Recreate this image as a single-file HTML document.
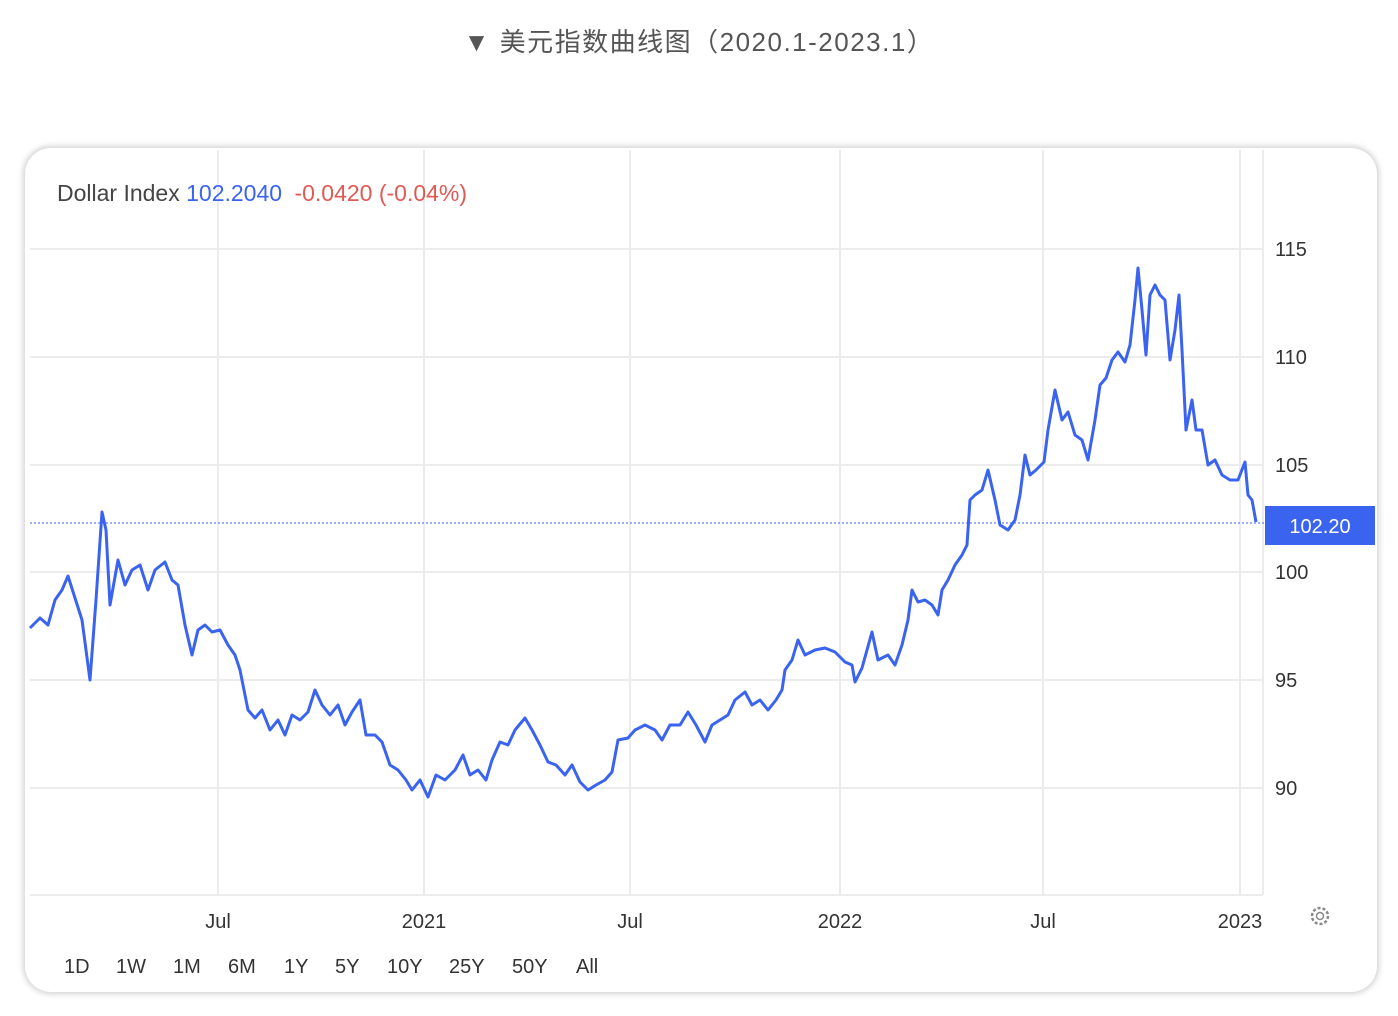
<!DOCTYPE html>
<html><head><meta charset="utf-8"><style>
body{margin:0;width:1398px;height:1016px;background:#fff;position:relative;overflow:hidden;font-family:"Liberation Sans","Noto Sans CJK SC",sans-serif}
.title{position:absolute;top:22px;left:0;width:1398px;text-align:center;font-size:26px;color:#555;letter-spacing:1.5px}
.card{position:absolute;left:25px;top:148px;width:1352px;height:844px;border-radius:26px;box-shadow:0 0 6px 2px rgba(0,0,0,0.18);background:#fff}
svg{position:absolute;left:0;top:0}
</style></head><body>
<div class="title">▼ 美元指数曲线图（2020.1-2023.1）</div>
<div class="card"></div>
<svg width="1398" height="1016" font-family="Liberation Sans, sans-serif">
<g stroke="#ececec" stroke-width="2">
<line x1="30" y1="249" x2="1263" y2="249"/><line x1="30" y1="357" x2="1263" y2="357"/><line x1="30" y1="465" x2="1263" y2="465"/><line x1="30" y1="572" x2="1263" y2="572"/><line x1="30" y1="680" x2="1263" y2="680"/><line x1="30" y1="788" x2="1263" y2="788"/><line x1="30" y1="895" x2="1263" y2="895"/>
<line x1="218" y1="150" x2="218" y2="895"/><line x1="424" y1="150" x2="424" y2="895"/><line x1="630" y1="150" x2="630" y2="895"/><line x1="840" y1="150" x2="840" y2="895"/><line x1="1043" y1="150" x2="1043" y2="895"/><line x1="1240" y1="150" x2="1240" y2="895"/><line x1="1263" y1="150" x2="1263" y2="895"/>
</g>
<text x="57" y="201" font-size="23" fill="#444">Dollar Index <tspan fill="#3a63f0">102.2040</tspan>  <tspan fill="#e05a55" dx="6">-0.0420 (-0.04%)</tspan></text>
<line x1="30" y1="523" x2="1265" y2="523" stroke="#3a63f0" stroke-width="1" stroke-dasharray="2,2"/>
<polyline fill="none" stroke="#3a63f0" stroke-width="3" stroke-linejoin="round" points="30,628 40,618 48,625 55,600 62,590 68,576 75,598 82,620 90,680 96,600 102,512 106,530 110,605 118,560 125,585 132,570 140,565 148,590 155,570 165,562 172,580 178,585 185,625 192,655 198,630 205,625 212,632 220,630 228,645 235,655 240,670 248,710 255,718 262,710 270,730 278,720 285,735 292,715 300,720 308,712 315,690 322,705 330,715 338,705 345,725 352,712 360,700 366,735 375,735 382,742 390,765 398,770 406,780 412,790 420,780 428,797 436,775 445,780 455,770 463,755 470,775 478,770 486,780 492,760 500,742 508,745 515,730 525,718 532,730 540,745 548,762 556,765 565,775 572,765 580,782 588,790 596,785 605,780 612,772 618,740 628,738 635,730 645,725 655,730 662,740 670,725 680,725 688,712 696,725 705,742 712,725 720,720 728,715 735,700 745,692 752,705 760,700 768,710 776,700 782,690 785,670 792,660 798,640 805,655 815,650 825,648 835,652 845,662 852,665 855,682 862,668 872,632 878,660 888,655 895,665 902,645 908,620 912,590 918,602 925,600 932,605 938,615 942,590 948,580 955,565 962,555 967,545 970,500 975,495 982,490 988,470 995,500 1000,525 1008,530 1015,520 1020,495 1025,455 1030,475 1036,470 1044,462 1048,430 1055,390 1062,420 1068,412 1075,435 1082,440 1088,460 1095,420 1100,385 1106,378 1112,360 1118,352 1125,362 1130,345 1135,300 1138,268 1142,310 1146,355 1150,295 1155,285 1160,295 1165,300 1170,360 1175,330 1179,295 1182,350 1186,430 1192,400 1196,430 1202,430 1208,465 1215,460 1222,475 1230,480 1238,480 1245,462 1248,495 1252,500 1256,522"/>
<g font-size="20" fill="#333">
<text x="1275" y="256">115</text><text x="1275" y="364">110</text><text x="1275" y="472">105</text><text x="1275" y="579">100</text><text x="1275" y="687">95</text><text x="1275" y="795">90</text>
<g text-anchor="middle"><text x="218" y="928">Jul</text><text x="424" y="928">2021</text><text x="630" y="928">Jul</text><text x="840" y="928">2022</text><text x="1043" y="928">Jul</text><text x="1240" y="928">2023</text></g>
<text x="64" y="973">1D</text><text x="116" y="973">1W</text><text x="173" y="973">1M</text><text x="228" y="973">6M</text><text x="284" y="973">1Y</text><text x="335" y="973">5Y</text><text x="387" y="973">10Y</text><text x="449" y="973">25Y</text><text x="512" y="973">50Y</text><text x="576" y="973">All</text>
</g>
<rect x="1265" y="506" width="110" height="39" fill="#3a63f0"/>
<text x="1320" y="533" font-size="20" fill="#fff" text-anchor="middle">102.20</text>
<circle cx="1320" cy="916" r="8" fill="none" stroke="#888" stroke-width="2.5" stroke-dasharray="3,2"/>
<circle cx="1320" cy="916" r="3.5" fill="none" stroke="#888" stroke-width="1.5"/>
</svg>
</body></html>
